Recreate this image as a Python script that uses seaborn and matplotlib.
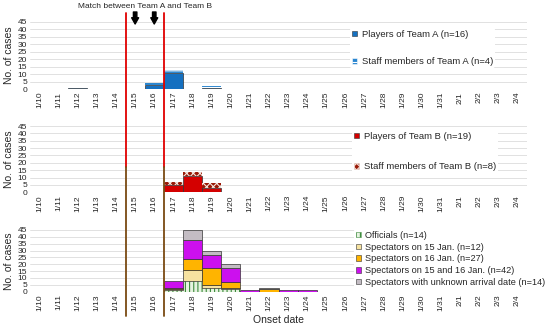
import numpy as np
import pandas as pd
import seaborn as sns
import matplotlib
matplotlib.use("Agg")
import matplotlib.pyplot as plt
import matplotlib.transforms as mtransforms
from matplotlib.colors import to_rgba
from matplotlib.lines import Line2D
from matplotlib.patches import Patch

# Onset dates (x categories)
dates = ["1/10", "1/11", "1/12", "1/13", "1/14", "1/15", "1/16", "1/17", "1/18",
         "1/19", "1/20", "1/21", "1/22", "1/23", "1/24", "1/25", "1/26", "1/27",
         "1/28", "1/29", "1/30", "1/31", "2/1", "2/2", "2/3", "2/4"]

# Team A (cases per onset date)
players_a = [0, 0, 1, 0, 0, 0, 3, 11, 0, 1, 0, 0, 0, 0, 0, 0, 0, 0, 0, 0, 0, 0, 0, 0, 0, 0]
staff_a   = [0, 0, 0, 0, 0, 0, 1, 2, 0, 1, 0, 0, 0, 0, 0, 0, 0, 0, 0, 0, 0, 0, 0, 0, 0, 0]

# Team B
players_b = [0, 0, 0, 0, 0, 0, 0, 5, 11, 3, 0, 0, 0, 0, 0, 0, 0, 0, 0, 0, 0, 0, 0, 0, 0, 0]
staff_b   = [0, 0, 0, 0, 0, 0, 0, 2, 3, 3, 0, 0, 0, 0, 0, 0, 0, 0, 0, 0, 0, 0, 0, 0, 0, 0]

# Officials and spectators
officials    = [0, 0, 0, 0, 0, 0, 0, 1, 8, 3, 2, 0, 0, 0, 0, 0, 0, 0, 0, 0, 0, 0, 0, 0, 0, 0]
spect_15     = [0, 0, 0, 0, 0, 0, 0, 1, 8, 2, 1, 0, 0, 0, 0, 0, 0, 0, 0, 0, 0, 0, 0, 0, 0, 0]
spect_16     = [0, 0, 0, 0, 0, 0, 0, 1, 8, 12, 4, 0, 2, 0, 0, 0, 0, 0, 0, 0, 0, 0, 0, 0, 0, 0]
spect_15_16  = [0, 0, 0, 0, 0, 0, 0, 5, 14, 10, 10, 1, 0, 1, 1, 0, 0, 0, 0, 0, 0, 0, 0, 0, 0, 0]
spect_unknown = [0, 0, 0, 0, 0, 0, 0, 0, 7, 3, 3, 0, 1, 0, 0, 0, 0, 0, 0, 0, 0, 0, 0, 0, 0, 0]

labels_a = ["Players of Team A (n=16)", "Staff members of Team A (n=4)"]
labels_b = ["Players of Team B (n=19)", "Staff members of Team B (n=8)"]
labels_c = ["Officials (n=14)", "Spectators on 15 Jan. (n=12)", "Spectators on 16 Jan. (n=27)",
            "Spectators on 15 and 16 Jan. (n=42)", "Spectators with unknown arrival date (n=14)"]

sns.set_style("white")
plt.rcParams["font.family"] = ["Liberation Sans", "DejaVu Sans"]
plt.rcParams["hatch.linewidth"] = 0.8

fig = plt.figure(figsize=(5.5, 3.27), dpi=100)
W, H = 550, 327
left, width = 30 / W, 497 / W
ax1 = fig.add_axes([left, (H - 89) / H, width, 67 / H])
ax2 = fig.add_axes([left, (H - 192.3) / H, width, 66.3 / H])
ax3 = fig.add_axes([left, (H - 291.7) / H, width, 61.7 / H])


def draw_panel(ax, series, names, colors, hatches, hcolors):
    rows = [(i, n, v) for n, vals in zip(names, series) for i, v in enumerate(vals) if v > 0]
    df = pd.DataFrame(rows, columns=["day", "group", "cases"])
    # seaborn puts the first hue level on top of the stack, so reverse it
    sns.histplot(data=df, x="day", weights="cases", hue="group", hue_order=names[::-1],
                 multiple="stack", discrete=True, palette=dict(zip(names, colors)),
                 alpha=1, edgecolor="#333333", linewidth=0.5, legend=False, ax=ax)
    # hatch the patterned groups, hide empty bars
    for cont in ax.containers:
        fc = cont.patches[0].get_facecolor()
        k = [j for j, c in enumerate(colors) if np.allclose(to_rgba(c), fc, atol=0.01)][0]
        for p in cont.patches:
            if p.get_height() <= 0:
                p.set_visible(False)
            elif hatches[k]:
                p.set_hatch(hatches[k])
                p.set_edgecolor(hcolors[k])
                p.set_linewidth(0)
    ax.set_xlim(-0.5, len(dates) - 0.5)
    ax.set_ylim(0, 45)
    ax.set_yticks(range(0, 50, 5))
    ax.set_xticks(range(len(dates)))
    ax.set_xticklabels(dates, rotation=90, fontsize=6)
    ax.tick_params(axis="y", labelsize=6, length=0, pad=2)
    ax.tick_params(axis="x", length=0, pad=2)
    ax.grid(axis="y", color="#dcdcdc", lw=0.6)
    ax.set_axisbelow(True)
    for s in ax.spines.values():
        s.set_visible(False)
    ax.set_xlabel("")
    ax.set_ylabel("No. of cases", fontsize=7.5)
    ax.yaxis.set_label_coords(-16 / 497, 0.5)
    handles = [Patch(facecolor=c, edgecolor=(hc if h else "#333333"), hatch=h, lw=0.4)
               for c, h, hc in zip(colors, hatches, hcolors)]
    return handles


h1 = draw_panel(ax1, [players_a, staff_a], labels_a,
                ["#1570c0", "#2a86d0"], [None, "--"], [None, "white"])
h2 = draw_panel(ax2, [players_b, staff_b], labels_b,
                ["#d40000", "#9a1a08"], [None, "xxxxx"], [None, "#f4e8e0"])
h3 = draw_panel(ax3, [officials, spect_15, spect_16, spect_15_16, spect_unknown], labels_c,
                ["#e6f3e0", "#f6e2a0", "#ffb400", "#cc10ee", "#c3bcc3"],
                ["||||", None, None, None, None], ["#3c8a3c", None, None, None, None])

ax3.set_xlabel("Onset date", fontsize=7.5, va="top")
ax3.xaxis.set_label_coords(0.5, -(315 - 291.7) / 61.7)

leg_kw = dict(loc="upper left", bbox_transform=fig.transFigure, frameon=True,
              framealpha=1, edgecolor="none", borderpad=0.2, borderaxespad=0,
              handlelength=0.55, handleheight=0.55, handletextpad=0.5)
ax1.legend(h1, labels_a, bbox_to_anchor=(350 / W, 1 - 28 / H), labelspacing=1.95,
           fontsize=6.8, **leg_kw)
ax2.legend(h2, labels_b, bbox_to_anchor=(352 / W, 1 - 130 / H), labelspacing=2.25,
           fontsize=6.8, **leg_kw)
ax3.legend(h3, labels_c, bbox_to_anchor=(354 / W, 1 - 229 / H), labelspacing=0.3,
           fontsize=6.6, **leg_kw)

# match period lines spanning all panels
trans = mtransforms.blended_transform_factory(ax3.transData, fig.transFigure)
for xv in [4.5, 6.5]:
    fig.add_artist(Line2D([xv, xv], [1 - 13 / H, 1 - 167 / H], color="#e00000", lw=1.3,
                          transform=trans))
    fig.add_artist(Line2D([xv, xv], [1 - 167 / H, 1 - 316 / H], color="#7a4a12", lw=1.3,
                          transform=trans))

for xv in [5, 6]:
    ax1.annotate("", xy=(xv, 1 - 24 / H), xycoords=trans, xytext=(xv, 1 - 12 / H),
                 textcoords=trans,
                 arrowprops=dict(arrowstyle="simple,head_length=0.45,head_width=0.5,tail_width=0.25",
                                 color="black", mutation_scale=10, shrinkA=0, shrinkB=0))

fig.text(145 / W, 1 - 7 / H, "Match between Team A and Team B", ha="center", va="center",
         fontsize=6)

fig.savefig("out.png", dpi=100)
